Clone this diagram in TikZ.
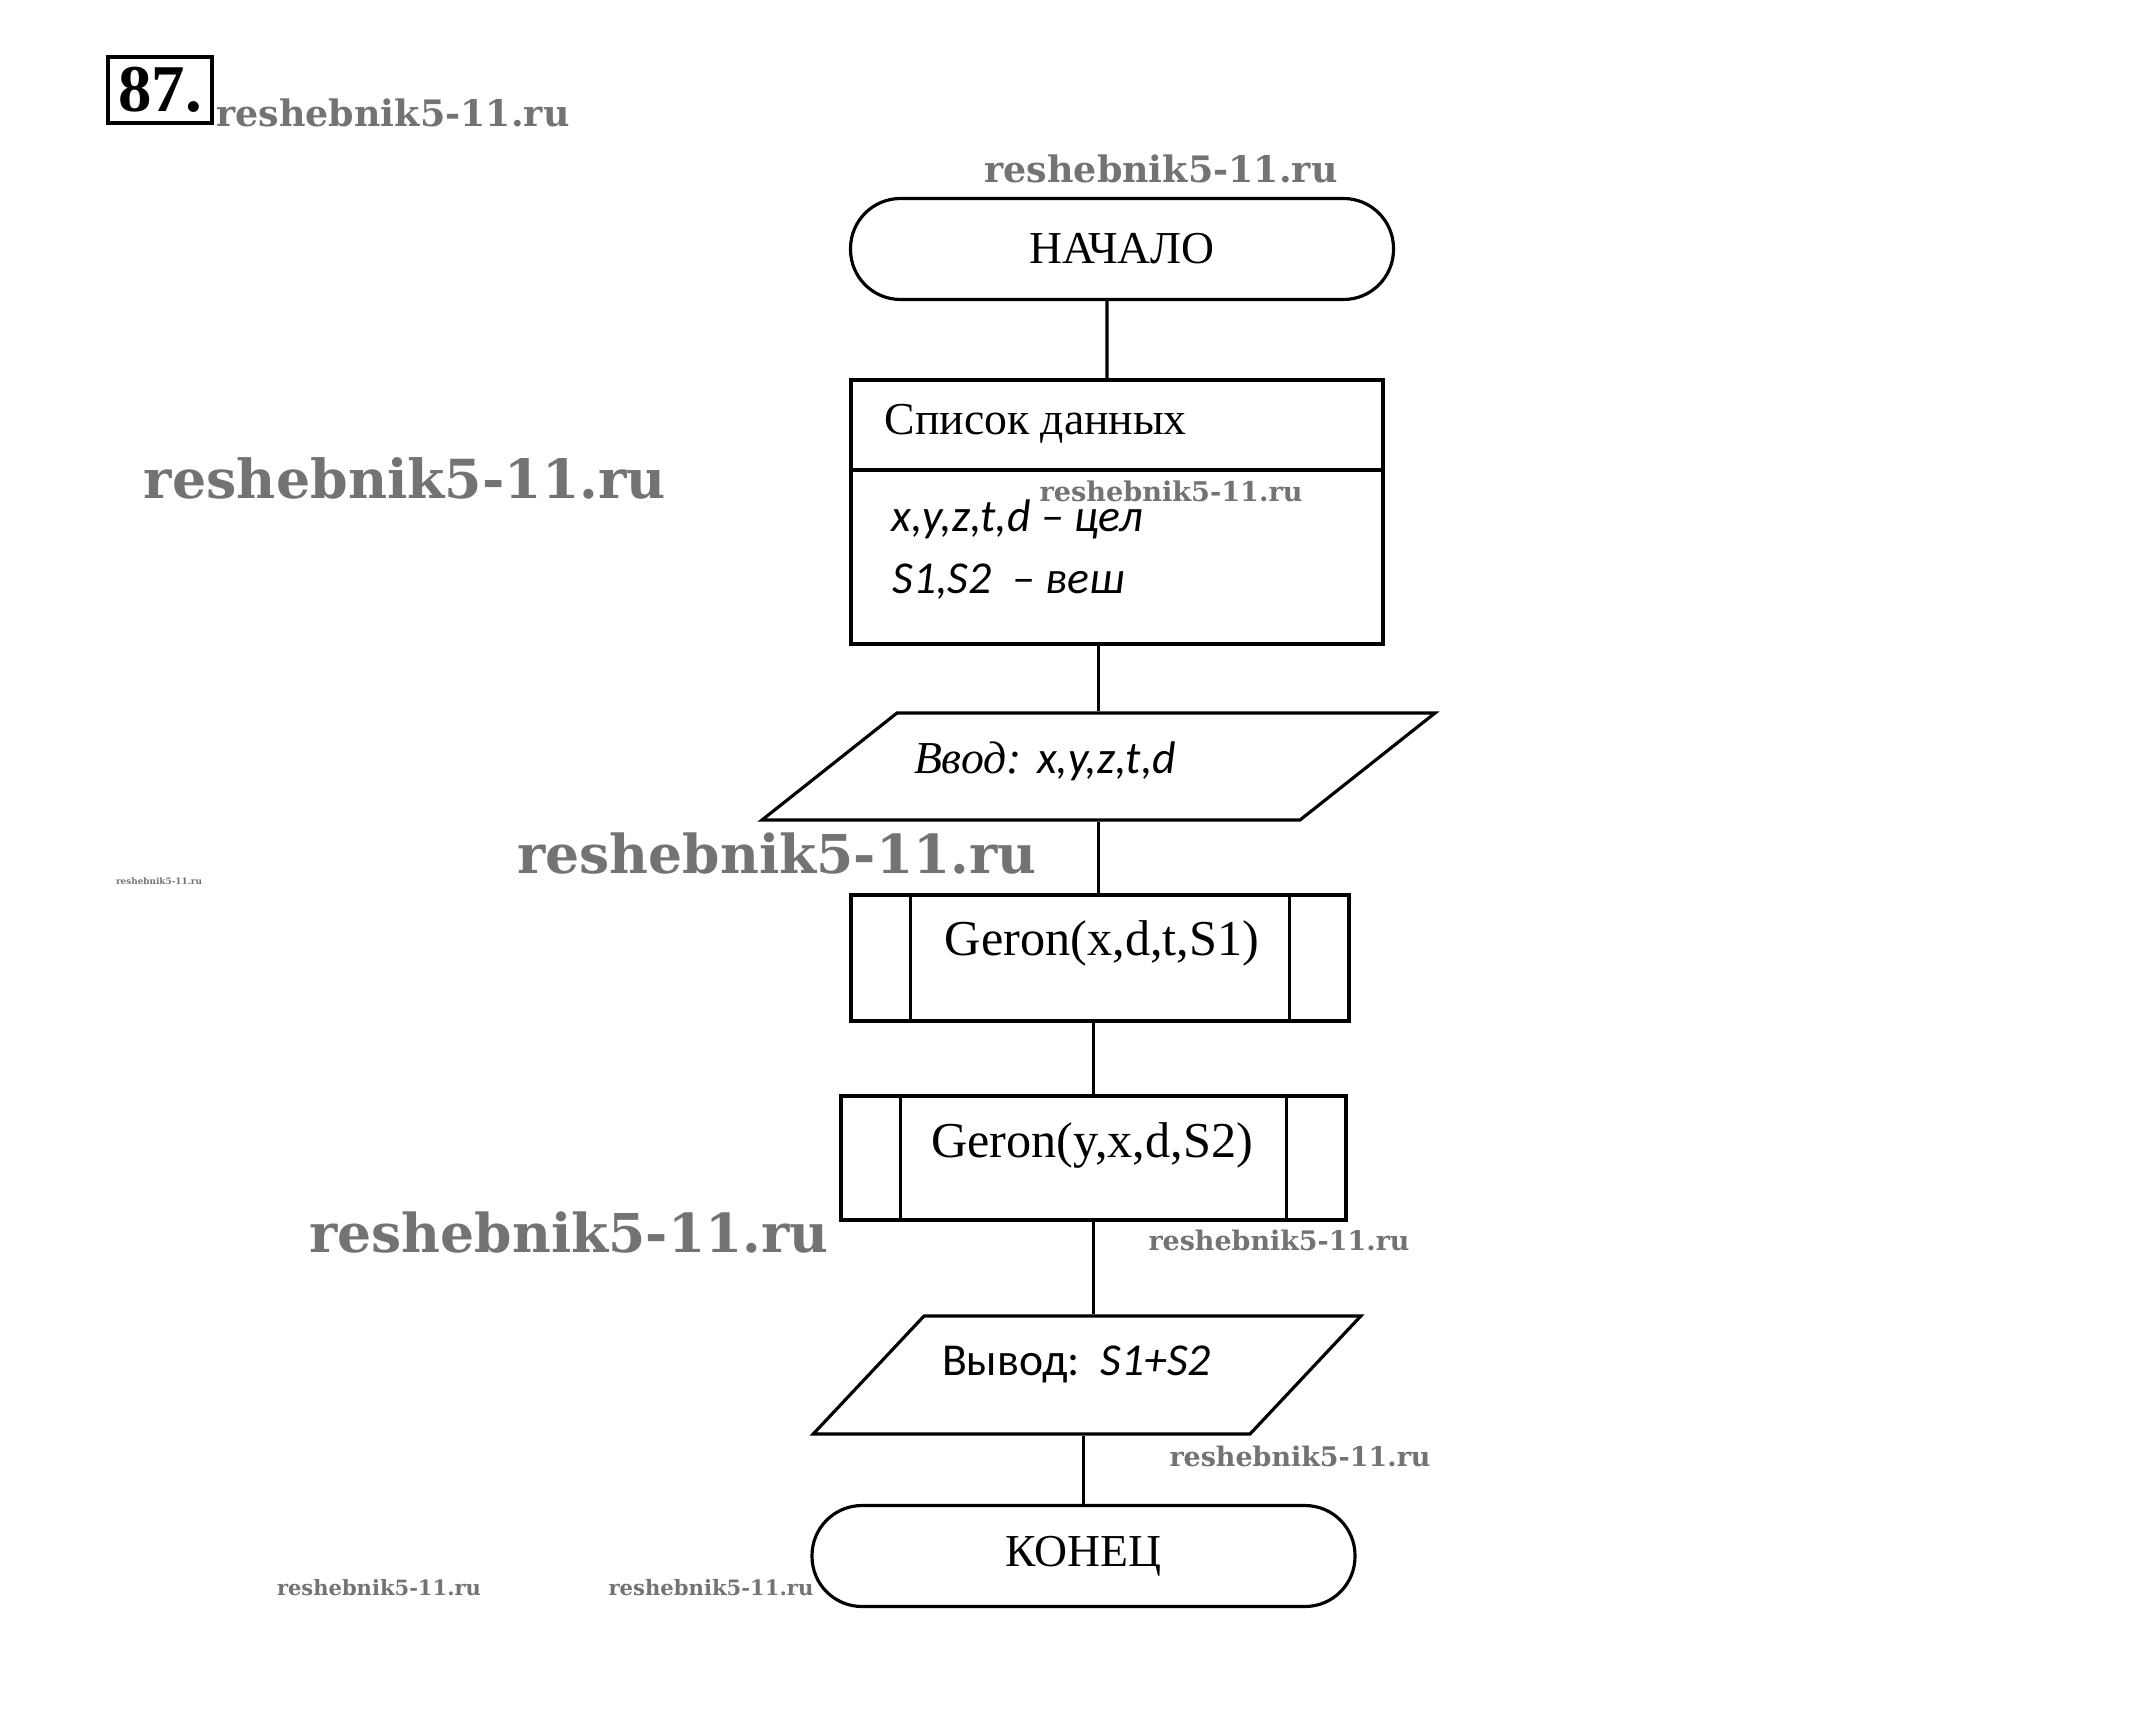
\documentclass[tikz,border=0pt]{standalone}
\usepackage{fontspec}
\setmainfont{Liberation Serif}
\newfontfamily\calfont{Carlito}
\newfontfamily\wmfont{DejaVu Serif}
\usepackage{graphicx}
\usetikzlibrary{shapes.geometric}

\newcommand{\wmark}[1]{\resizebox{#1}{!}{\wmfont\bfseries reshebnik5-11.ru}}

\tikzset{
    blk/.style={draw, line width=0.9pt},
    term/.style={blk, rectangle, rounded corners=0.5cm, minimum width=5.43cm, minimum height=1.01cm},
    io/.style={blk, shape=trapezium},
    conn/.style={line width=0.9pt},
    wm/.style={text=black!55}
}

\begin{document}
\begin{tikzpicture}[every node/.style={inner sep=0pt, font=\fontsize{13}{15}\selectfont}]
        \fill [white] (0,0) rectangle (21.43,-17.21);
        \useasboundingbox (0,0) rectangle (21.43,-17.21);
        % водяные знаки
        \node [wm] (w1) at(3.93,-1.13) {\wmark{3.53cm}};
        \node [wm] (w2) at(11.61,-1.69) {\wmark{3.53cm}};
        \node [wm] (w3) at(4.05,-4.78) {\wmark{5.22cm}};
        \node [wm] (w4) at(11.71,-4.91) {\wmark{2.63cm}};
        \node [wm] (w5) at(7.77,-8.54) {\wmark{5.19cm}};
        \node [wm] (w6) at(1.59,-8.81) {\wmark{0.86cm}};
        \node [wm] (w7) at(5.69,-12.33) {\wmark{5.19cm}};
        \node [wm] (w8) at(12.79,-12.40) {\wmark{2.61cm}};
        \node [wm] (w9) at(13.00,-14.56) {\wmark{2.61cm}};
        \node [wm] (w10) at(3.79,-15.88) {\wmark{2.04cm}};
        \node [wm] (w11) at(7.11,-15.88) {\wmark{2.05cm}};
        % номер
        \node [draw, line width=1.1pt, minimum width=1.04cm, minimum height=0.66cm,
            font=\fontsize{19}{21}\selectfont\bfseries] (num) at(1.60,-0.90) {87.};
        % начало
        \node [term] (nach) at(11.22,-2.49) {НАЧАЛО};
        % список данных
        \node [blk, minimum width=5.32cm, minimum height=2.64cm] (dat) at(11.17,-5.12) {};
        \coordinate (div) at(0,-4.70);
        \draw [conn] (dat.west |- div) -- (dat.east |- div);
        \node [anchor=west] (spis) at(8.84,-4.24) {Список данных};
        \node [anchor=west, font=\fontsize{13}{15}\selectfont\calfont\itshape] (cel) at(8.91,-5.19) {x,y,z,t,d – цел};
        \node [anchor=west, font=\fontsize{13}{15}\selectfont\calfont\itshape] (ves) at(8.92,-5.82) {S1,S2\ \ – веш};
        % ввод
        \node [io, trapezium left angle=38.4, trapezium right angle=141.6,
            inner xsep=2.015cm, inner ysep=0.535cm] (inp) at(10.985,-7.665) {};
        \node (inpt) at(10.45,-7.61) {\itshape Ввод: {\calfont x,y,z,t,d}};
        % geron 1
        \node [blk, minimum width=4.98cm, minimum height=1.26cm] (g1) at(11.00,-9.58) {};
        \draw [conn] ([xshift=0.61cm]g1.north west) -- ([xshift=0.61cm]g1.south west);
        \draw [conn] ([xshift=-0.61cm]g1.north east) -- ([xshift=-0.61cm]g1.south east);
        \node [font=\fontsize{14.3}{16}\selectfont] (g1t) at(11.02,-9.43) {Geron(x,d,t,S1)};
        % geron 2
        \node [blk, minimum width=5.05cm, minimum height=1.24cm] (g2) at(10.935,-11.58) {};
        \draw [conn] ([xshift=0.61cm]g2.north west) -- ([xshift=0.61cm]g2.south west);
        \draw [conn] ([xshift=-0.61cm]g2.north east) -- ([xshift=-0.61cm]g2.south east);
        \node [font=\fontsize{14.3}{16}\selectfont] (g2t) at(10.92,-11.45) {Geron(y,x,d,S2)};
        % вывод
        \node [io, trapezium left angle=46.8, trapezium right angle=133.2,
            inner xsep=1.63cm, inner ysep=0.59cm] (out) at(10.87,-13.75) {};
        \node (outt) at(10.765,-13.64) {\calfont Вывод:\ \ \itshape S1+S2};
        % конец
        \node [term] (kon) at(10.835,-15.56) {КОНЕЦ};
        % линии
        \draw [conn] ([xshift=-1.5mm]nach.south) -- ([xshift=-1mm]dat.north);
        \draw [conn] (inp.north |- dat.south) -- (inp.north);
        \draw [conn] (inp.south) -- (inp.south |- g1.north);
        \draw [conn] (g1.south -| g2.north) -- (g2.north);
        \draw [conn] (g2.south) -- (g2.south |- out.north);
        \draw [conn] (out.south -| kon.north) -- (kon.north);
    \end{tikzpicture}
\end{document}
